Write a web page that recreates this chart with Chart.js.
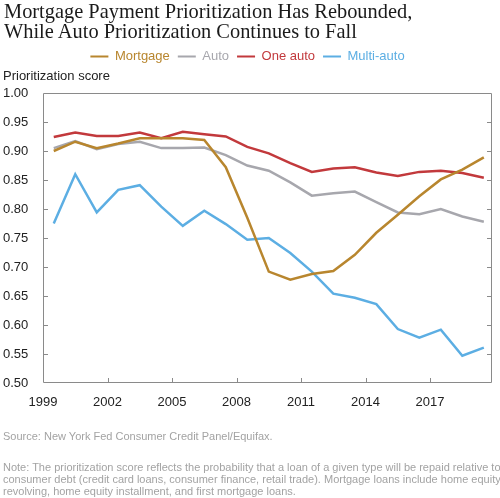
<!DOCTYPE html>
<html>
<head>
<meta charset="utf-8">
<script src="https://cdn.jsdelivr.net/npm/chart.js@4"></script>
<style>
  html, body { margin: 0; padding: 0; background: #fff; }
  #wrap { position: relative; width: 500px; height: 498px; overflow: hidden; }
  #c { position: absolute; left: 0; top: 0; }
  .title { position: absolute; left: 4px; top: 1px; font-family: "Liberation Serif", serif; font-size: 20.4px; line-height: 20px; color: #1a1a1a; white-space: nowrap; }
  .ylab { position: absolute; left: 3px; top: 68px; font-family: "Liberation Sans", Arial, sans-serif; font-size: 13px; color: #222; }
  .notes { position: absolute; left: 3px; font-family: "Liberation Sans", Arial, sans-serif; font-size: 11px; line-height: 12px; color: #a3a3a3; white-space: nowrap; }
</style>
</head>
<body>
<div id="wrap">
  <canvas id="c" width="500" height="498"></canvas>
  <div class="title">Mortgage Payment Prioritization Has Rebounded,<br>While Auto Prioritization Continues to Fall</div>
  <div class="ylab">Prioritization score</div>
  <div class="notes" style="top:430px">Source: New York Fed Consumer Credit Panel/Equifax.</div>
  <div class="notes" style="top:461px">Note: The prioritization score reflects the probability that a loan of a given type will be repaid relative to<br>consumer debt (credit card loans, consumer finance, retail trade). Mortgage loans include home equity<br>revolving, home equity installment, and first mortgage loans.</div>
</div>
<script>
// one point per year, plotted at mid-year
const years = [1999, 2000, 2001, 2002, 2003, 2004, 2005, 2006, 2007, 2008, 2009,
  2010, 2011, 2012, 2013, 2014, 2015, 2016, 2017, 2018, 2019];
const xTicks = [1999, 2002, 2005, 2008, 2011, 2014, 2017];
const mortgage = [0.900, 0.916, 0.905, 0.913, 0.922, 0.922, 0.922, 0.919, 0.872, 0.785, 0.692,
  0.678, 0.688, 0.693, 0.721, 0.759, 0.790, 0.822, 0.851, 0.868, 0.889];
const auto = [0.905, 0.917, 0.903, 0.912, 0.916, 0.905, 0.905, 0.906, 0.893, 0.875, 0.866,
  0.846, 0.823, 0.827, 0.830, 0.812, 0.794, 0.791, 0.800, 0.787, 0.778];
const oneAuto = [0.924, 0.932, 0.926, 0.926, 0.932, 0.922, 0.933, 0.929, 0.925, 0.907, 0.896,
  0.879, 0.864, 0.870, 0.872, 0.863, 0.857, 0.864, 0.866, 0.862, 0.854];
const multiAuto = [0.775, 0.860, 0.794, 0.833, 0.841, 0.804, 0.771, 0.797, 0.774, 0.747, 0.750,
  0.724, 0.692, 0.654, 0.647, 0.636, 0.593, 0.578, 0.592, 0.547, 0.561];
const seriesNames = ["Mortgage", "Auto", "One auto", "Multi-auto"];
const colors = ["#b8862e", "#a7a7ad", "#c2393c", "#5caee3"];

const FONT = "'Liberation Sans', Arial, sans-serif";

function pts(vals) {
  return vals.map((v, i) => ({ x: years[i] + 0.5, y: v }));
}

// box + inward tick marks, positions from the chart's scales
const frame = {
  id: "frame",
  beforeDatasetsDraw(chart) {
    const { ctx, chartArea: a } = chart;
    const x = chart.scales.x, y = chart.scales.y;
    ctx.save();
    ctx.strokeStyle = "#8a8a8a";
    ctx.lineWidth = 1;
    ctx.beginPath();
    ctx.rect(Math.round(a.left) + 0.5, Math.round(a.top) + 0.5,
      Math.round(a.right - a.left) - 1, Math.round(a.bottom - a.top) - 1);
    y.ticks.forEach(t => {
      const py = Math.round(y.getPixelForValue(t.value)) + 0.5;
      if (py < a.top + 2 || py > a.bottom - 2) return;
      ctx.moveTo(a.left, py); ctx.lineTo(a.left + 5, py);
      ctx.moveTo(a.right - 5, py); ctx.lineTo(a.right, py);
    });
    x.ticks.forEach(t => {
      const px = Math.round(x.getPixelForValue(t.value)) + 0.5;
      if (px < a.left + 2 || px > a.right - 2) return;
      ctx.moveTo(px, a.bottom); ctx.lineTo(px, a.bottom - 5);
    });
    ctx.stroke();
    ctx.restore();
  }
};

new Chart(document.getElementById("c"), {
  type: "line",
  data: {
    datasets: [mortgage, auto, oneAuto, multiAuto].map((vals, i) => ({
      label: seriesNames[i],
      data: pts(vals),
      borderColor: colors[i],
      backgroundColor: colors[i],
      borderWidth: 2.5,
      pointRadius: 0,
      tension: 0,
      fill: false
    }))
  },
  options: {
    responsive: false,
    animation: false,
    devicePixelRatio: 1,
    layout: { padding: { top: 42, left: 3, right: 8, bottom: 75 } },
    plugins: {
      tooltip: { enabled: false },
      legend: {
        position: "top",
        labels: {
          font: { family: FONT, size: 13 },
          boxWidth: 18,
          boxHeight: 2,
          padding: 8,
          generateLabels(chart) {
            const items = Chart.defaults.plugins.legend.labels.generateLabels(chart);
            items.forEach((it, i) => {
              it.fillStyle = colors[i];
              it.strokeStyle = colors[i];
              it.lineWidth = 0;
              it.fontColor = colors[i];
            });
            return items;
          }
        }
      }
    },
    scales: {
      x: {
        type: "linear",
        min: 1999,
        max: 2019.88,
        grid: { display: false, drawTicks: false },
        border: { display: false },
        ticks: {
          padding: 12,
          color: "#222",
          font: { family: FONT, size: 13 },
          maxRotation: 0,
          autoSkip: false,
          callback: v => String(v)
        },
        afterBuildTicks(s) { s.ticks = xTicks.map(v => ({ value: v })); },
        afterFit(s) { s.height = 40; }
      },
      xTop: {
        type: "linear",
        position: "top",
        display: true,
        grid: { display: false },
        border: { display: false },
        ticks: { display: false },
        afterFit(s) { s.height = 20; }
      },
      y: {
        min: 0.5,
        max: 1.0,
        grid: { display: false },
        border: { display: false },
        ticks: {
          stepSize: 0.05,
          crossAlign: "far",
          color: "#222",
          font: { family: FONT, size: 13 },
          callback: v => v.toFixed(2)
        },
        afterFit(s) { s.width = 40; }
      }
    }
  },
  plugins: [frame]
});
</script>
</body>
</html>
